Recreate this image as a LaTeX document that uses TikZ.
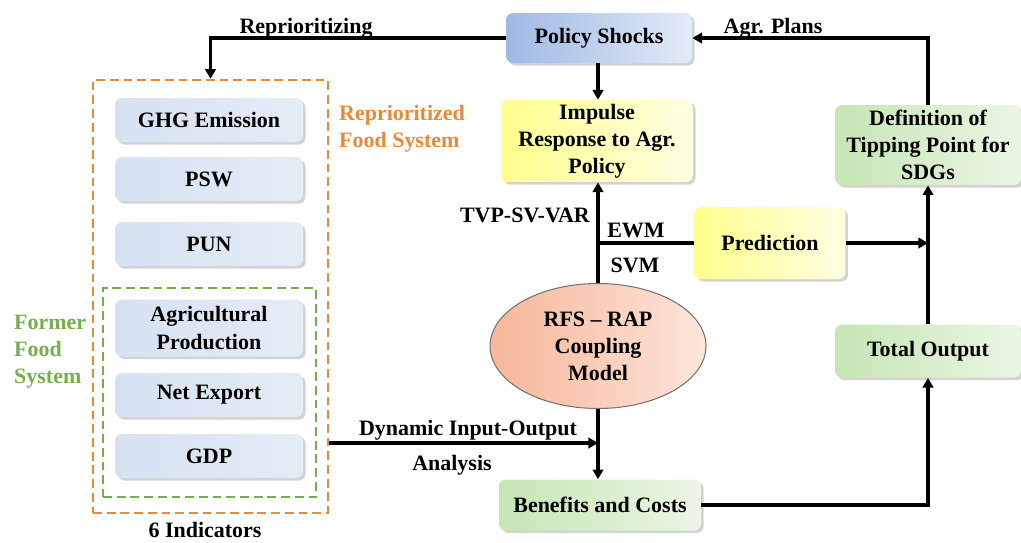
\documentclass[tikz,border=0pt]{standalone}
\usepackage{fontspec}
\setmainfont{Liberation Serif}
\usepackage{xcolor}
\usetikzlibrary{shapes.geometric, arrows.meta, shadows}
\definecolor{indblue}{HTML}{D6E2F2}
\definecolor{shockblue}{HTML}{9FB8E4}
\definecolor{resyellow}{HTML}{FFFF8C}
\definecolor{resgreen}{HTML}{C6E5B4}
\definecolor{rfsorange}{HTML}{F7B699}
\definecolor{reporange}{HTML}{E8893A}
\definecolor{formgreen}{HTML}{76AD4E}

\tikzset{
  box/.style={rounded corners=4pt, inner sep=0pt, align=center,
    drop shadow={shadow xshift=1.5pt, shadow yshift=-1.5pt, opacity=0.35}},
  indbox/.style={box, left color=indblue, right color=indblue!65, minimum width=3.76cm, minimum height=0.88cm},
  shockbox/.style={box, left color=shockblue, right color=indblue!70},
  yelbox/.style={box, left color=resyellow, right color=resyellow!25},
  grnbox/.style={box, left color=resgreen, right color=resgreen!35},
  arr/.style={line width=2pt, -{Triangle[length=5.5pt, width=6pt]}},
  conn/.style={line width=2pt},
  dashbox/.style={line width=1.4pt, dash pattern=on 5pt off 2.8pt, minimum width=#1}
}

\begin{document}
\begin{tikzpicture}[font=\fontsize{12.5}{15.4}\selectfont\bfseries, x=0.02cm, y=-0.02cm]
\useasboundingbox (0,0) rectangle (1021,542);

% indicators
\node[dashbox=4.7cm, draw=reporange, minimum height=8.66cm] (outer) at (210.5,296.5) {};
\node[dashbox=4.26cm, draw=formgreen, minimum height=4.18cm] (inner) at (209.5,392.5) {};
\node[indbox] (ghg) at (209,120) {GHG Emission};
\node[indbox] (psw) at (209,179) {PSW};
\node[indbox] (pun) at (209,244) {PUN};
\node[indbox, minimum height=1.14cm] (agri) at (209,328) {Agricultural\\Production};
\node[indbox] (netexp) at (209,395) {Net Export};
\node[indbox] (gdp) at (209,456) {GDP};
\node[text=reporange, anchor=west, align=left] (reptxt) at (333,129) {Reprioritized\\Food System};
\node[text=formgreen, anchor=west, align=left] (formtxt) at (8,352) {Former\\Food\\System};
\node (sixind) at (205,530) {6 Indicators};

% model
\node[shockbox, minimum width=3.72cm, minimum height=1.0cm] (policy) at (599,38) {Policy Shocks};
\node[yelbox, minimum width=3.84cm, minimum height=1.64cm] (impulse) at (597,141) {Impulse\\Response to Agr.\\Policy};
\node[yelbox, minimum width=3.02cm, minimum height=1.44cm] (predict) at (770,243) {Prediction};
\node[grnbox, minimum width=3.72cm, minimum height=1.6cm] (tipping) at (928,145) {Definition of\\Tipping Point for\\SDGs};
\node[grnbox, minimum width=3.72cm, minimum height=1.06cm] (total) at (928,351) {Total Output};
\node[grnbox, minimum width=4.04cm, minimum height=1.02cm] (benefit) at (600,505) {Benefits and Costs};
\node[ellipse, draw=black!55, line width=0.6pt, left color=rfsorange, right color=rfsorange!35,
  minimum width=4.32cm, minimum height=2.5cm, inner sep=0pt, align=center] (rfsrap) at (598,346) {RFS -- RAP\\Coupling\\Model};
\coordinate (jct) at (predict.west -| rfsrap.north);
\coordinate (dio) at (598,443);

% connectors
\draw[arr] (policy.west) -| (outer.north);
\draw[arr] (tipping.north) |- (policy.east);
\draw[arr] (policy.south -| rfsrap.north) -- (impulse.north -| rfsrap.north);
\draw[arr] (rfsrap.north) -- (impulse.south -| rfsrap.north);
\draw[conn] (jct) -- (predict.west);
\draw[arr] (predict.east) -- (predict.east -| tipping.south);
\draw[arr] (total.north) -- (tipping.south);
\draw[arr] (rfsrap.south) -- (benefit.north -| rfsrap.south);
\draw[arr] (outer.east |- dio) -- (dio);
\draw[arr] (benefit.east) -| (total.south);

% labels
\node (reprio) at (306,28) {Reprioritizing};
\node (agrplans) at (773,28) {Agr. Plans};
\node[anchor=east] (tvp) at (596,215) {TVP-SV-VAR};
\node (ewm) at (636,230) {EWM};
\node (svm) at (635,265) {SVM};
\node (diotxt) at (468,430) {Dynamic Input-Output};
\node (analysis) at (452,465) {Analysis};
\end{tikzpicture}
\end{document}
